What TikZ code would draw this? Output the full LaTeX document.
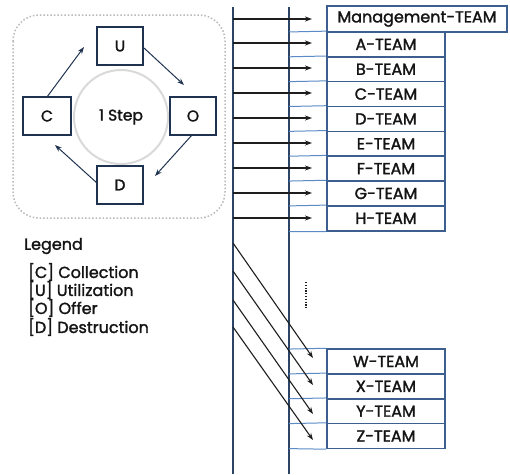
\documentclass[tikz,border=0pt]{standalone}
\usepackage{fontspec}
\setmainfont{Poppins}[BoldFont=Poppins,BoldFeatures={FakeBold=1.6}]
\usetikzlibrary{arrows.meta}
\definecolor{navy}{HTML}{1F3350}
\definecolor{vline}{HTML}{2B4468}
\definecolor{tline}{HTML}{5B8AC6}
\definecolor{tbox}{HTML}{3D5F8F}
\definecolor{arr}{HTML}{1E1E1E}
\definecolor{txt}{HTML}{141414}
\tikzset{
  every node/.style={text=txt},
  cyc/.style={draw=navy,line width=1.8pt,fill=white,minimum width=46pt,minimum height=38pt,inner sep=0pt,font=\fontsize{15.5}{18}\selectfont\bfseries},
  team/.style={draw=tbox,line width=1.6pt,fill=white,minimum width=118pt,minimum height=24.8pt,inner sep=0pt,font=\fontsize{16}{18}\selectfont\bfseries},
  cycarr/.style={draw=navy,line width=1pt,-{Stealth[length=7pt,width=5pt]}},
  harr/.style={draw=arr,line width=1.1pt,-{Stealth[length=7pt,width=5pt]}},
  vl/.style={draw=vline,line width=1.2pt},
  tl/.style={draw=tline,line width=1pt},
  leg/.style={anchor=west,inner sep=0pt,font=\fontsize{16}{18}\selectfont\bfseries}
}
\begin{document}
\begin{tikzpicture}[x=1pt,y=-1pt]
\useasboundingbox (0,0) rectangle (510,474);
% cycle panel
\draw[draw=gray!55,line width=1.5pt,dotted,rounded corners=26pt] (13,15) rectangle (225,218);
\node[draw=gray!30,line width=2pt,circle,minimum size=94pt,inner sep=0pt,font=\fontsize{15.5}{18}\selectfont\bfseries] (step) at (121,117) {1 Step};
\node[cyc] (U) at (120,46) {U};
\node[cyc,minimum width=48pt] (C) at (47,116) {C};
\node[cyc] (O) at (193,116) {O};
\node[cyc] (D) at (120,185) {D};
\coordinate (c1) at (47,97);  \coordinate (c2) at (84,47);
\coordinate (u1) at (144,48); \coordinate (u2) at (184,85);
\coordinate (o1) at (192,135);\coordinate (o2) at (155,176);
\coordinate (d1) at (97,183); \coordinate (d2) at (55,145);
\draw[cycarr] (c1) -- (c2);
\draw[cycarr] (u1) -- (u2);
\draw[cycarr] (o1) -- (o2);
\draw[cycarr] (d1) -- (d2);
% legend
\node[leg] (lg) at (24,246) {Legend};
\node[leg] (l1) at (28,272) {[C] Collection};
\node[leg] (l2) at (28,290) {[U] Utilization};
\node[leg] (l3) at (28,308) {[O] Offer};
\node[leg] (l4) at (28,327) {[D] Destruction};
% vertical lines
\coordinate (L0) at (233,7); \coordinate (L1) at (233,474);
\coordinate (R0) at (289,7); \coordinate (R1) at (289,474);
\draw[vl] (L0) -- (L1);
\draw[vl] (R0) -- (R1);
% top teams
\node[team,minimum width=180pt,minimum height=26pt] (M) at (417,19) {Management-TEAM};
\foreach \t [count=\i] in {A,B,C,D,E,F,G,H}{
  \node[team] (T\t) at (386,{19.5+\i*24.85}) {\t-TEAM};
  \coordinate (s\t) at (289,{19.5+\i*24.85-12.4});
  \draw[tl] (s\t) -- (T\t.north west);
}
\coordinate (sEnd) at (289,231.6);
\draw[tl] (sEnd) -- (TH.south west);
% horizontal arrows
\coordinate (aM) at (233,19); \coordinate (eM) at (312,19);
\draw[harr] (aM) -- (eM);
\foreach \t [count=\i] in {A,B,C,D,E,F,G,H}{
  \coordinate (a\t) at (233,{18+\i*25});
  \coordinate (e\t) at (312,{18+\i*25});
  \draw[harr] (a\t) -- (e\t);
}
% bottom teams
\foreach \t [count=\i] in {W,X,Y,Z}{
  \node[team] (T\t) at (386,{336.6+\i*24.85}) {\t-TEAM};
  \coordinate (s\t) at (289,{336.6+\i*24.85-12.4});
  \draw[tl] (s\t) -- (T\t.north west);
}
\coordinate (sEnd2) at (289,448.6);
\draw[tl] (sEnd2) -- (TZ.south west);
% diagonal arrows
\coordinate (dW) at (233,243); \coordinate (fW) at (313,358);
\coordinate (dX) at (233,271); \coordinate (fX) at (313,385);
\coordinate (dY) at (233,300); \coordinate (fY) at (313,414);
\coordinate (dZ) at (233,327); \coordinate (fZ) at (313,440);
\draw[harr] (dW) -- (fW);
\draw[harr] (dX) -- (fX);
\draw[harr] (dY) -- (fY);
\draw[harr] (dZ) -- (fZ);
% dots
\coordinate (p0) at (306,282); \coordinate (p1) at (306,308);
\draw[arr,line width=1.2pt,dash pattern=on 1.2pt off 1.6pt] (p0) -- (p1);
\end{tikzpicture}
\end{document}
